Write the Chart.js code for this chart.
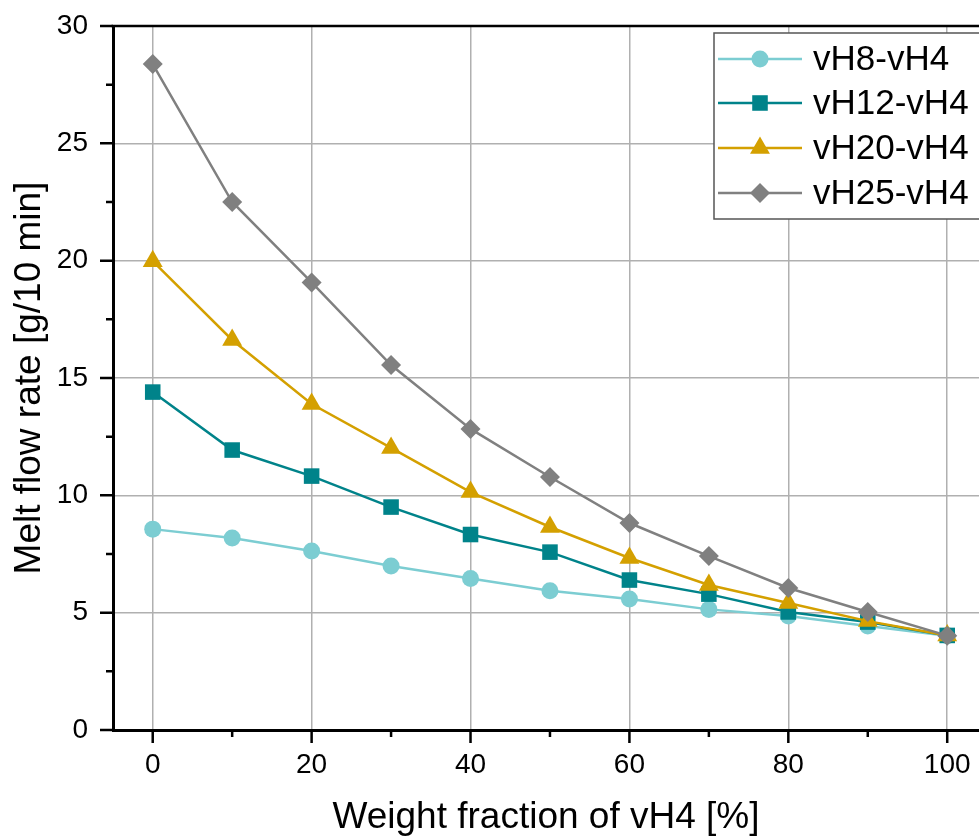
<!DOCTYPE html>
<html>
<head>
<meta charset="utf-8">
<script src="https://cdn.jsdelivr.net/npm/chart.js@4/dist/chart.umd.min.js"></script>
<style>
  html, body { margin: 0; padding: 0; background: #fff; overflow: hidden; }
</style>
</head>
<body>
<canvas id="mfrChart" width="979" height="837"></canvas>
<script>
// x values: weight fraction of vH4 in %
const weightFraction = [0, 10, 20, 30, 40, 50, 60, 70, 80, 90, 100];

// melt flow rate in g/10 min
const vH8 = [8.56, 8.18, 7.63, 6.99, 6.46, 5.93, 5.58, 5.14, 4.86, 4.43, 4.02];
const vH12 = [14.40, 11.93, 10.82, 9.50, 8.33, 7.58, 6.39, 5.79, 5.03, 4.60, 4.03];
const vH20 = [19.98, 16.62, 13.89, 12.02, 10.14, 8.65, 7.33, 6.18, 5.41, 4.64, 4.03];
const vH25 = [28.38, 22.50, 19.07, 15.55, 12.83, 10.78, 8.82, 7.41, 6.05, 5.03, 4.02];

const seriesLabels = ["vH8-vH4", "vH12-vH4", "vH20-vH4", "vH25-vH4"];

// tick positions
const xMajorTicks = [0, 20, 40, 60, 80, 100];
const xMinorTicks = [10, 30, 50, 70, 90];
const yMajorTicks = [0, 5, 10, 15, 20, 25, 30];
const yMinorTicks = [2.5, 7.5, 12.5, 17.5, 22.5, 27.5];

const FONT = '"Liberation Sans", Arial, Helvetica, sans-serif';

const styles = [
  { color: "#7ccdd2", pointStyle: "circle", radius: 8.5 },
  { color: "#00838a", pointStyle: "rect", radius: 11 },
  { color: "#d4a000", pointStyle: "triangle", radius: 11.5 },
  { color: "#808080", pointStyle: "rectRot", radius: 10 },
];

function toPoints(values) {
  return weightFraction.map((x, i) => ({ x: x, y: values[i] }));
}

const datasets = [vH8, vH12, vH20, vH25].map((values, i) => ({
  label: seriesLabels[i],
  data: toPoints(values),
  borderColor: styles[i].color,
  backgroundColor: styles[i].color,
  borderWidth: 2.5,
  pointStyle: styles[i].pointStyle,
  pointRadius: styles[i].radius,
  pointHoverRadius: styles[i].radius,
  pointBorderWidth: 0,
  pointBackgroundColor: styles[i].color,
  order: 3 - i, // vH25 drawn on top
  tension: 0,
}));

// outside tick marks (major long, minor short) + top frame line
const axisTicks = {
  id: "axisTicks",
  afterDraw(chart) {
    const { ctx, chartArea, scales } = chart;
    ctx.save();
    ctx.strokeStyle = "#000";
    ctx.lineWidth = 2.5;
    ctx.beginPath();
    xMajorTicks.forEach((v) => {
      const px = scales.x.getPixelForValue(v);
      ctx.moveTo(px, chartArea.bottom);
      ctx.lineTo(px, chartArea.bottom + 13);
    });
    xMinorTicks.forEach((v) => {
      const px = scales.x.getPixelForValue(v);
      ctx.moveTo(px, chartArea.bottom);
      ctx.lineTo(px, chartArea.bottom + 7);
    });
    yMajorTicks.forEach((v) => {
      const py = scales.y.getPixelForValue(v);
      ctx.moveTo(chartArea.left, py);
      ctx.lineTo(chartArea.left - 13, py);
    });
    yMinorTicks.forEach((v) => {
      const py = scales.y.getPixelForValue(v);
      ctx.moveTo(chartArea.left, py);
      ctx.lineTo(chartArea.left - 7, py);
    });
    ctx.stroke();

    // top border
    ctx.beginPath();
    ctx.lineWidth = 2.5;
    ctx.moveTo(chartArea.left - 1.5, chartArea.top);
    ctx.lineTo(chartArea.right + 2, chartArea.top);
    ctx.stroke();
    ctx.restore();
  },
};

// legend with line + marker samples
const lineLegend = {
  id: "lineLegend",
  afterDraw(chart) {
    const { ctx } = chart;
    const box = { left: 714, top: 33, bottom: 219 };
    ctx.save();
    ctx.fillStyle = "#fff";
    ctx.fillRect(box.left, box.top, 300, box.bottom - box.top);
    ctx.strokeStyle = "#555";
    ctx.lineWidth = 1.5;
    ctx.strokeRect(box.left, box.top, 300, box.bottom - box.top);

    const rowY = [59, 103, 148, 193];
    chart.data.datasets.forEach((ds, i) => {
      const y = rowY[i];
      ctx.strokeStyle = ds.borderColor;
      ctx.lineWidth = 2.5;
      ctx.beginPath();
      ctx.moveTo(718, y);
      ctx.lineTo(802, y);
      ctx.stroke();

      ctx.fillStyle = ds.backgroundColor;
      ctx.strokeStyle = ds.backgroundColor;
      if (Chart.helpers && Chart.helpers.drawPoint) {
        Chart.helpers.drawPoint(ctx, {
          pointStyle: ds.pointStyle,
          radius: ds.pointRadius,
          borderWidth: 0,
          rotation: 0,
        }, 760, y);
      } else {
        ctx.beginPath();
        ctx.arc(760, y, ds.pointRadius, 0, Math.PI * 2);
        ctx.fill();
      }

      ctx.fillStyle = "#000";
      ctx.font = "35px " + FONT;
      ctx.textAlign = "left";
      ctx.textBaseline = "middle";
      ctx.fillText(ds.label, 813, y + 1);
    });
    ctx.restore();
  },
};

const ctx = document.getElementById("mfrChart").getContext("2d");
const mfrChart = new Chart(ctx, {
  type: "line",
  data: { datasets: datasets },
  plugins: [axisTicks, lineLegend],
  options: {
    responsive: false,
    animation: false,
    devicePixelRatio: 1,
    layout: {
      autoPadding: false,
      padding: { top: 26, left: 0, right: 0, bottom: 0 },
    },
    plugins: {
      legend: { display: false },
      tooltip: { enabled: false },
    },
    scales: {
      x: {
        type: "linear",
        min: -5,
        max: 104,
        afterBuildTicks: (scale) => {
          scale.ticks = xMajorTicks.map((v) => ({ value: v }));
        },
        afterFit: (scale) => {
          scale.height = 107;
          scale.paddingLeft = 0;
          scale.paddingRight = 0;
        },
        grid: {
          color: "#b0b0b0",
          lineWidth: 1.5,
          drawTicks: false,
        },
        border: { color: "#000", width: 3 },
        ticks: {
          padding: 18,
          color: "#000",
          font: { family: FONT, size: 28 },
          maxRotation: 0,
        },
        title: {
          display: true,
          text: "Weight fraction of vH4 [%]",
          color: "#000",
          font: { family: FONT, size: 37 },
          padding: { top: 0, bottom: -3 },
        },
      },
      y: {
        type: "linear",
        min: 0,
        max: 30,
        afterBuildTicks: (scale) => {
          scale.ticks = yMajorTicks.map((v) => ({ value: v }));
        },
        afterFit: (scale) => {
          scale.width = 113;
          scale.paddingTop = 0;
          scale.paddingBottom = 0;
        },
        grid: {
          color: "#b0b0b0",
          lineWidth: 1.5,
          drawTicks: false,
        },
        border: { color: "#000", width: 3 },
        ticks: {
          padding: 25,
          color: "#000",
          font: { family: FONT, size: 28 },
        },
        title: {
          display: true,
          text: "Melt flow rate [g/10 min]",
          color: "#000",
          font: { family: FONT, size: 37 },
          padding: { top: 8, bottom: 0 },
        },
      },
    },
  },
});
</script>
</body>
</html>
